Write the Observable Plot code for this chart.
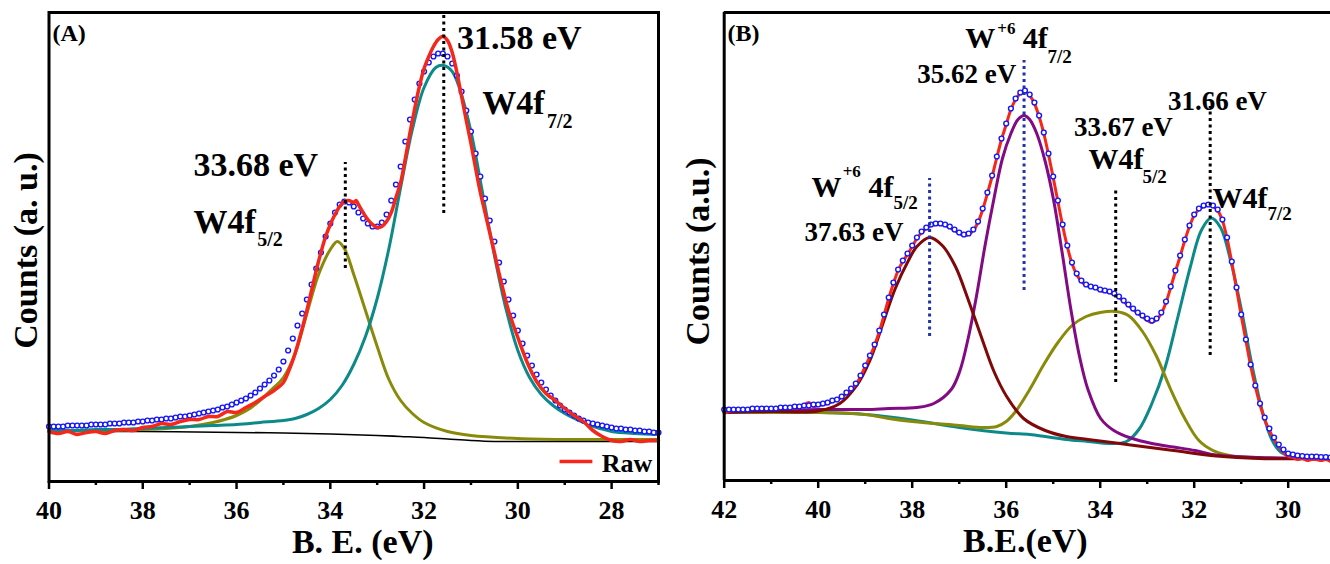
<!DOCTYPE html>
<html><head><meta charset="utf-8">
<script src="https://cdn.jsdelivr.net/npm/d3@7"></script>
<script src="https://cdn.jsdelivr.net/npm/@observablehq/plot@0.6"></script>
<style>
html,body{margin:0;padding:0;background:#fff;}
#wrap{display:flex;width:1330px;height:564px;overflow:hidden;}
#wrap svg{display:block;flex:none;}
</style></head><body><div id="wrap"></div>
<script>
// ---------- Panel A data: [binding energy (eV), counts (a.u.)] ----------
const aRaw = [[40,50],[39.8,48],[39.6,50],[39.4,47],[39.2,49],[39,50],[38.8,48],[38.6,51],[38.4,52],[38.2,51],[38,54],[37.8,55],[37.6,58],[37.4,57],[37.2,60],[37,62],[36.8,62],[36.6,65],[36.4,65],[36.2,70],[36,69],[35.8,74],[35.6,79],[35.4,85],[35.2,91],[35,99],[34.9,109],[34.8,121],[34.7,136],[34.6,153],[34.5,171],[34.4,191],[34.3,211],[34.2,229],[34.1,245],[34,257],[33.9,267],[33.8,275],[33.7,280],[33.6,281],[33.5,279],[33.45,281],[33.4,277],[33.3,269],[33.2,262],[33.1,257],[33,254],[32.9,255],[32.8,260],[32.7,269],[32.6,284],[32.5,299],[32.4,323],[32.3,349],[32.2,373],[32.1,395],[32,413],[31.9,425],[31.8,435],[31.7,442],[31.6,445],[31.5,441],[31.4,429],[31.3,409],[31.2,385],[31.1,361],[31,338],[30.9,313],[30.8,289],[30.7,269],[30.6,249],[30.5,229],[30.4,208],[30.3,189],[30.2,171],[30.1,157],[30,144],[29.8,119],[29.6,100],[29.4,88],[29.2,81],[29,73],[28.8,66],[28.6,60],[28.4,51],[28.2,45],[28,41],[27.8,40],[27.6,42],[27.4,40],[27.2,41],[27,41]];
const aFit = [[40,55],[39.9,55],[39.8,55],[39.7,55],[39.6,56],[39.5,56],[39.4,56],[39.3,56],[39.2,56],[39.1,57],[39,57],[38.9,57],[38.8,57],[38.7,58],[38.6,58],[38.5,58],[38.4,59],[38.3,59],[38.2,59],[38.1,60],[38,60],[37.9,61],[37.8,61],[37.7,62],[37.6,62],[37.5,63],[37.4,63],[37.3,64],[37.2,65],[37.1,65],[37,66],[36.9,67],[36.8,68],[36.7,69],[36.6,70],[36.5,71],[36.4,72],[36.3,74],[36.2,75],[36.1,77],[36,79],[35.9,81],[35.8,83],[35.7,86],[35.6,89],[35.5,93],[35.4,97],[35.3,101],[35.2,106],[35.1,112],[35,120],[34.9,131],[34.8,143],[34.7,156],[34.6,168],[34.5,182],[34.4,197],[34.3,213],[34.2,229],[34.1,245],[34,258],[33.9,269],[33.8,277],[33.7,280],[33.6,279],[33.5,275],[33.4,269],[33.3,263],[33.2,258],[33.1,255],[33,255],[32.9,259],[32.8,267],[32.7,281],[32.6,297],[32.5,315],[32.4,340],[32.3,362],[32.2,382],[32.1,398],[32,410],[31.9,419],[31.8,425],[31.7,428],[31.6,428],[31.5,425],[31.4,418],[31.3,406],[31.2,390],[31.1,371],[31,350],[30.9,328],[30.8,305],[30.7,283],[30.6,261],[30.5,240],[30.4,219],[30.3,200],[30.2,182],[30.1,166],[30,151],[29.9,138],[29.8,126],[29.7,116],[29.6,107],[29.5,99],[29.4,92],[29.3,86],[29.2,81],[29.1,76],[29,72],[28.9,69],[28.8,66],[28.7,63],[28.6,61],[28.5,59],[28.4,58],[28.3,57],[28.2,56],[28.1,55],[28,54],[27.9,53],[27.8,53],[27.7,52],[27.6,52],[27.5,51],[27.4,51],[27.3,50],[27.2,50],[27.1,49],[27,49]];
const aTeal = [[40,51],[39.5,51],[39,52],[38.5,52],[38,53],[37.5,54],[37,55],[36.5,56],[36,57],[35.5,59],[35,61],[34.75,63],[34.5,67],[34.25,73],[34,82],[33.75,96],[33.5,117],[33.25,145],[33,183],[32.75,233],[32.5,294],[32.25,352],[32,394],[31.75,414],[31.58,416],[31.4,410],[31.25,394],[31,350],[30.75,288],[30.5,226],[30.25,172],[30,131],[29.75,104],[29.5,87],[29.25,76],[29,68],[28.75,62],[28.5,57],[28.25,53],[28,50],[27.5,48],[27,47]];
const aOlive = [[40,51],[39,51],[38,52],[37.5,53],[37,55],[36.5,59],[36.25,62],[36,66],[35.75,72],[35.5,81],[35.25,92],[35,104],[34.75,128],[34.5,168],[34.25,207],[34,232],[33.85,240],[33.7,233],[33.5,207],[33.25,171],[33,135],[32.75,102],[32.5,81],[32.25,68],[32,59],[31.5,50],[31,46],[30,43],[29,42],[28,42],[27,42]];
const aBackground = [[40,50],[38,50],[36,49],[35,48.5],[34,47.5],[33,46],[32.5,45],[32,44],[31.5,42.5],[31,41],[30.5,40],[30,40],[27,40]];
const aMarkers = [{be:33.68, lo:213, hi:319}, {be:31.58, lo:268, hi:466}];
const aTicksMajor = [40,38,36,34,32,30,28];
const aTicksMinor = [39,37,35,33,31,29,27];
const aLabels = [
  {t:"(A)", be:39.925, c:441, s:24},
  {t:"33.68 eV", be:36.92, c:306, s:34},
  {t:"W4f", be:36.92, c:249, s:34},
  {t:"5/2", be:35.56, c:236, s:20},
  {t:"31.58 eV", be:31.30, c:433, s:34},
  {t:"W4f", be:30.76, c:368, s:34},
  {t:"7/2", be:29.38, c:354, s:20},
  {t:"Raw", be:28.21, c:10, s:26}
];
const aLegendLine = [{c:20, from:29.10, to:28.40}];

// ---------- Panel B data ----------
const bFit = [[42,71],[41.9,71],[41.8,71],[41.7,71],[41.6,71],[41.5,71],[41.4,72],[41.3,72],[41.2,72],[41.1,72],[41,72],[40.9,72],[40.8,73],[40.7,73],[40.6,73],[40.5,74],[40.4,74],[40.3,75],[40.2,75],[40.1,76],[40,76],[39.9,77],[39.8,78],[39.7,80],[39.6,81],[39.5,84],[39.4,88],[39.3,92],[39.2,97],[39.1,105],[39,115],[38.9,125],[38.8,136],[38.7,150],[38.6,166],[38.5,183],[38.4,198],[38.3,211],[38.2,220],[38.1,227],[38,235],[37.9,243],[37.8,249],[37.7,253],[37.6,256],[37.5,257],[37.4,257],[37.3,256],[37.2,254],[37.1,251],[37,248],[36.9,246],[36.8,247],[36.7,251],[36.6,259],[36.5,272],[36.4,288],[36.3,305],[36.2,324],[36.1,342],[36,357],[35.9,372],[35.8,382],[35.7,388],[35.6,390],[35.5,386],[35.4,378],[35.3,365],[35.2,348],[35.1,327],[35,304],[34.9,280],[34.8,256],[34.7,235],[34.6,218],[34.5,207],[34.4,200],[34.3,196],[34.2,194],[34.1,193],[34,191],[33.9,190],[33.8,189],[33.7,187],[33.6,184],[33.5,180],[33.4,176],[33.3,172],[33.2,168],[33.1,165],[33,162],[32.9,160],[32.8,162],[32.7,168],[32.6,179],[32.5,194],[32.4,210],[32.3,225],[32.2,241],[32.1,255],[32,266],[31.9,272],[31.8,275],[31.7,276],[31.6,275],[31.5,271],[31.4,261],[31.3,243],[31.2,219],[31.1,193],[31,166],[30.9,141],[30.8,116],[30.7,95],[30.6,77],[30.5,63],[30.4,52],[30.3,43],[30.2,36],[30.1,31],[30,27],[29.9,26],[29.8,25],[29.7,24.5],[29.6,24],[29.5,24],[29.4,24],[29.3,23.5],[29.2,23.5],[29.1,23]];
const bRaw = [[42,67],[41.9,69],[41.8,70],[41.6,70],[41.4,71],[41.2,71],[41,71],[40.8,72],[40.6,72],[40.4,73],[40.2,78],[40.1,74],[40,75],[39.8,77],[39.6,81],[39.5,83],[39.4,87],[39.3,91],[39.2,96],[39.1,104],[39,114],[38.9,124],[38.8,135],[38.7,149],[38.6,165],[38.5,182],[38.4,197],[38.3,210],[38.2,219],[38.1,226],[38,234],[37.9,242],[37.8,248],[37.7,252],[37.6,255],[37.5,256],[37.4,256],[37.3,255],[37.2,253],[37.1,250],[37,247],[36.9,245],[36.8,246],[36.7,250],[36.6,258],[36.5,271],[36.4,287],[36.3,304],[36.2,323],[36.1,341],[36,356],[35.9,371],[35.8,381],[35.7,387],[35.6,389],[35.5,385],[35.4,377],[35.3,364],[35.2,347],[35.1,326],[35,303],[34.9,279],[34.8,255],[34.7,234],[34.6,217],[34.5,206],[34.4,199],[34.3,195],[34.2,194],[34.1,193],[34,190],[33.9,189],[33.8,188],[33.7,186],[33.6,183],[33.5,179],[33.4,175],[33.3,171],[33.2,167],[33.1,164],[33,160],[32.9,158],[32.8,161],[32.7,167],[32.6,178],[32.5,193],[32.4,209],[32.3,224],[32.2,240],[32.1,254],[32,265],[31.9,271],[31.8,274],[31.7,275],[31.6,274],[31.5,270],[31.4,260],[31.3,242],[31.2,218],[31.1,192],[31,165],[30.9,140],[30.8,115],[30.7,94],[30.6,76],[30.5,61],[30.4,50],[30.3,41],[30.2,34],[30.1,28],[30,24],[29.9,23],[29.8,21],[29.7,22],[29.6,20],[29.5,21],[29.4,21],[29.3,20],[29.2,21],[29.1,19]];
const bPurple = [[42,70],[41,70],[40,71],[39,71],[38.5,72],[37.9,73],[37.54,77],[37.17,91],[36.99,109],[36.81,142],[36.63,185],[36.45,235],[36.26,282],[36.08,322],[35.9,347],[35.75,361],[35.62,365],[35.5,361],[35.35,347],[35.17,319],[34.99,280],[34.81,228],[34.62,170],[34.44,124],[34.26,91],[33.99,62],[33.71,50],[33.35,42.5],[32.9,37],[32.44,33.5],[31.98,30],[31.53,25.5],[30.62,23],[29.1,22]];
const bMaroon = [[42,68],[41,69],[40,69.5],[39.54,77],[39.18,95],[38.9,120],[38.63,156],[38.36,192],[38.08,220],[37.9,234],[37.63,243],[37.36,235],[37.08,214],[36.81,181],[36.54,145],[36.26,109],[35.99,84],[35.63,62],[35.17,50],[34.72,44],[34.26,41],[33.35,35.5],[32.44,30],[31.53,24.5],[30.62,22],[29.1,22]];
const bOlive = [[42,68],[41,68],[40,68],[39,66],[38.5,62],[38,59],[37,55],[36.5,53],[36.2,54],[36,59],[35.8,69],[35.5,91],[35.2,116],[34.9,138],[34.6,155],[34.3,164],[34,168],[33.67,169],[33.4,165],[33.1,149],[32.8,124],[32.5,91],[32.2,62],[31.9,40],[31.6,30],[31.3,25.5],[31,23.4],[30,22],[29.1,22]];
const bTeal = [[42,68],[41,68],[40,68],[39,66],[38,60.5],[37,53],[36,47.5],[35.5,46],[35.17,44],[34.72,41],[34.26,39],[33.8,37],[33.44,39],[33.17,51.5],[32.9,77],[32.62,113],[32.35,163],[32.08,214],[31.85,250],[31.64,262.5],[31.44,253],[31.21,217],[30.98,167],[30.76,113],[30.53,66],[30.35,41],[30.16,28.4],[29.89,23.4],[29.1,22]];
const bMarkersBlue = [{be:37.63, lo:144, hi:302}, {be:35.62, lo:190, hi:420}];
const bMarkersBlack = [{be:33.67, lo:98, hi:293}, {be:31.66, lo:125, hi:374}];
const bTicksMajor = [42,40,38,36,34,32,30];
const bTicksMinor = [41,39,37,35,33,31];
const bLabels = [
  {t:"(B)", be:41.93, c:440, s:24},
  {t:"W", be:40.14, c:283.5, s:30},
  {t:"+6", be:39.48, c:304, s:17},
  {t:"4f", be:38.93, c:283.5, s:30},
  {t:"5/2", be:38.40, c:272, s:19},
  {t:"37.63 eV", be:40.29, c:240, s:27},
  {t:"W", be:36.87, c:433, s:30},
  {t:"+6", be:36.19, c:447, s:17},
  {t:"4f", be:35.65, c:433, s:30},
  {t:"7/2", be:35.12, c:418, s:19},
  {t:"35.62 eV", be:37.89, c:398, s:27},
  {t:"33.67 eV", be:34.56, c:345, s:27},
  {t:"W4f", be:34.25, c:312, s:30},
  {t:"5/2", be:33.10, c:298, s:19},
  {t:"31.66 eV", be:32.56, c:371, s:27},
  {t:"W4f", be:31.61, c:273, s:30},
  {t:"7/2", be:30.44, c:261, s:19}
];

// ---------- styles ----------
const serif = '"Liberation Serif", "Times New Roman", serif';
const RED = "#f4271a", BLUE = "#1414ff", TEAL = "#0c8a8a", OLIVE = "#8a8a0a",
      PURPLE = "#820a82", MAROON = "#800808", NAVY = "#2233a8";
const X = d => d[0], Y = d => d[1];

function texts(labels) {
  return Plot.text(labels, {x: "be", y: "c", text: "t", fontSize: d => d.s,
    textAnchor: "start", lineAnchor: "bottom", fontWeight: "bold", fill: "black"});
}
function axes(major, minor) {
  return [
    Plot.axisX({ticks: major, tickSize: 8, tickPadding: 11, fontSize: 26, fontWeight: "bold",
      strokeWidth: 2.5, tickFormat: d => String(d), label: null}),
    Plot.axisX({ticks: minor, tickSize: 4, strokeWidth: 2.5, tickFormat: () => "", label: null})
  ];
}

const chartA = Plot.plot({
  width: 665, height: 564,
  marginLeft: 48.5, marginRight: 7, marginTop: 12, marginBottom: 83,
  x: {domain: [40, 27], axis: null},
  y: {domain: [0, 469], axis: null},
  style: {fontFamily: serif, fontWeight: "bold", color: "black", background: "white", overflow: "visible"},
  marks: [
    Plot.line(aBackground, {x: X, y: Y, stroke: "black", strokeWidth: 1.6, curve: "catmull-rom"}),
    Plot.line(aOlive, {x: X, y: Y, stroke: OLIVE, strokeWidth: 3, curve: "catmull-rom"}),
    Plot.line(aTeal, {x: X, y: Y, stroke: TEAL, strokeWidth: 3, curve: "catmull-rom"}),
    Plot.dot(aFit, {x: X, y: Y, r: 2.4, stroke: BLUE, fill: "white", strokeWidth: 1.4}),
    Plot.line(aRaw, {x: X, y: Y, stroke: RED, strokeWidth: 3.5, curve: "catmull-rom"}),
    Plot.ruleX(aMarkers, {x: "be", y1: "lo", y2: "hi", stroke: "black", strokeWidth: 3, strokeDasharray: "3,3.5"}),
    Plot.ruleY(aLegendLine, {y: "c", x1: "from", x2: "to", stroke: RED, strokeWidth: 3.5}),
    texts(aLabels),
    Plot.frame({stroke: "black", strokeWidth: 3}),
    ...axes(aTicksMajor, aTicksMinor),
    Plot.text(["B. E. (eV)"], {text: d => d, frameAnchor: "bottom", textAnchor: "middle", dx: 9, dy: 71, lineAnchor: "bottom", fontSize: 34, fontWeight: "bold"}),
    Plot.text(["Counts (a. u.)"], {text: d => d, frameAnchor: "left", textAnchor: "middle", rotate: -90, dx: -12.5, dy: 3.5, lineAnchor: "bottom", fontSize: 34, fontWeight: "bold"})
  ]
});

const chartB = Plot.plot({
  width: 665, height: 564,
  marginLeft: 58.7, marginRight: 0, marginTop: 12, marginBottom: 84,
  x: {domain: [42, 29.1], axis: null},
  y: {domain: [0, 468], axis: null},
  style: {fontFamily: serif, fontWeight: "bold", color: "black", background: "white", overflow: "visible"},
  marks: [
    Plot.line(bTeal, {x: X, y: Y, stroke: TEAL, strokeWidth: 3, curve: "catmull-rom"}),
    Plot.line(bOlive, {x: X, y: Y, stroke: OLIVE, strokeWidth: 3, curve: "catmull-rom"}),
    Plot.line(bPurple, {x: X, y: Y, stroke: PURPLE, strokeWidth: 3, curve: "catmull-rom"}),
    Plot.line(bMaroon, {x: X, y: Y, stroke: MAROON, strokeWidth: 3, curve: "catmull-rom"}),
    Plot.line(bRaw, {x: X, y: Y, stroke: RED, strokeWidth: 3, curve: "catmull-rom"}),
    Plot.dot(bFit, {x: X, y: Y, r: 2.4, stroke: BLUE, fill: "white", strokeWidth: 1.4}),
    Plot.ruleX(bMarkersBlue, {x: "be", y1: "lo", y2: "hi", stroke: NAVY, strokeWidth: 3, strokeDasharray: "3,3.5"}),
    Plot.ruleX(bMarkersBlack, {x: "be", y1: "lo", y2: "hi", stroke: "black", strokeWidth: 3, strokeDasharray: "3,3.5"}),
    texts(bLabels),
    Plot.ruleX([42], {stroke: "black", strokeWidth: 3}),
    Plot.ruleY([0, 468], {stroke: "black", strokeWidth: 3}),
    ...axes(bTicksMajor, bTicksMinor),
    Plot.text(["B.E.(eV)"], {text: d => d, frameAnchor: "bottom", textAnchor: "middle", dx: -2, dy: 71, lineAnchor: "bottom", fontSize: 34, fontWeight: "bold"}),
    Plot.text(["Counts (a.u.)"], {text: d => d, frameAnchor: "left", textAnchor: "middle", rotate: -90, dx: -15.7, dy: 5, lineAnchor: "bottom", fontSize: 34, fontWeight: "bold"})
  ]
});

document.getElementById("wrap").append(chartA, chartB);
</script></body></html>
